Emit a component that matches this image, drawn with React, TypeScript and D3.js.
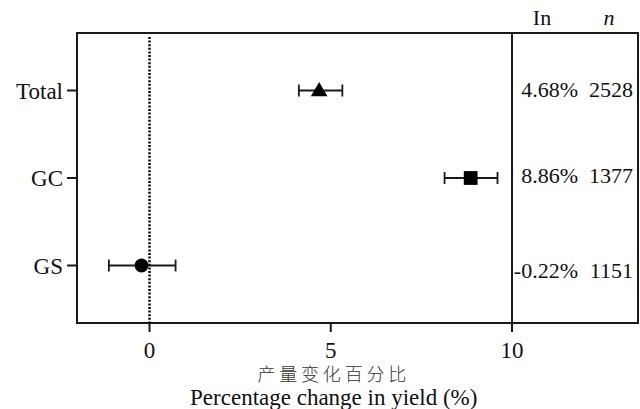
import React from "react";
import * as d3 from "d3";

const categories = ["Total", "GC", "GS"];
const means = [4.68, 8.86, -0.22];
const lower = [4.12, 8.14, -1.12];
const upper = [5.32, 9.6, 0.72];
const lnLabels = ["4.68%", "8.86%", "-0.22%"];
const nLabels = ["2528", "1377", "1151"];
const shapes = ["triangle", "square", "circle"];
const xTicks = [0, 5, 10];
const textDy = [-1, -3, 5];

const W = 640;
const H = 409;
const left = 77;
const mid = 512;
const right = 638;
const top = 33;
const bottom = 323;
const serifStyle = { fontFamily: "'Liberation Serif', 'Times New Roman', Times, 'DejaVu Serif', serif" };
const cjkStyle = { fontFamily: "'Liberation Serif', 'Noto Sans CJK SC', sans-serif" };
const stroke = "#1a1a1a";

export default function App() {
  const x = d3.scaleLinear().domain([-2, 10]).range([left, mid]);
  const y = d3.scalePoint<string>().domain(categories).range([top, bottom]).padding(0.657);

  const tri = d3.symbol().type(d3.symbolTriangle).size(120)();
  const sq = d3.symbol().type(d3.symbolSquare).size(190)();
  const circ = d3.symbol().type(d3.symbolCircle).size(150)();
  const shapePath = (s: string) => (s === "triangle" ? tri : s === "square" ? sq : circ);

  return (
    <svg width={W} height={H} style={{ position: "absolute", left: 0, top: 0, background: "#fff" }}>
      <rect x={0} y={0} width={W} height={H} fill="#fff" />
      <rect x={left} y={top} width={right - left} height={bottom - top} fill="none" stroke={stroke} strokeWidth={2} />
      <line x1={mid} x2={mid} y1={top} y2={bottom} stroke={stroke} strokeWidth={2} />
      <line x1={x(0)} x2={x(0)} y1={top + 4} y2={bottom} stroke="#000" strokeWidth={2.5} strokeDasharray="2,1.6" />
      {xTicks.map((t) => (
        <g key={t}>
          <line x1={x(t)} x2={x(t)} y1={bottom} y2={bottom + 9} stroke={stroke} strokeWidth={2} />
          <text x={x(t)} y={bottom + 35} textAnchor="middle" style={serifStyle} fontSize={23} fill="#111">
            {t}
          </text>
        </g>
      ))}
      {categories.map((c) => (
        <g key={c}>
          <line x1={left - 10} x2={left} y1={y(c)!} y2={y(c)!} stroke={stroke} strokeWidth={2} />
          <text x={left - 14} y={y(c)!} dy="0.35em" textAnchor="end" style={serifStyle} fontSize={23} fill="#111">
            {c}
          </text>
        </g>
      ))}
      {categories.map((c, i) => {
        const cy = y(c)!;
        return (
          <g key={c}>
            <line x1={x(lower[i])} x2={x(upper[i])} y1={cy} y2={cy} stroke={stroke} strokeWidth={1.8} />
            <line x1={x(lower[i])} x2={x(lower[i])} y1={cy - 6} y2={cy + 6} stroke={stroke} strokeWidth={1.8} />
            <line x1={x(upper[i])} x2={x(upper[i])} y1={cy - 6} y2={cy + 6} stroke={stroke} strokeWidth={1.8} />
            <path d={shapePath(shapes[i])!} transform={`translate(${x(means[i])},${cy + (shapes[i] === "triangle" ? 1 : 0)})`} fill="#000" />
          </g>
        );
      })}
      <text x={542} y={25} textAnchor="middle" style={serifStyle} fontSize={22} fill="#111">In</text>
      <text x={609} y={25} textAnchor="middle" style={serifStyle} fontSize={22} fontStyle="italic" fill="#111">n</text>
      {categories.map((c, i) => (
        <g key={c}>
          <text x={578} y={y(c)! + textDy[i]} dy="0.35em" textAnchor="end" style={serifStyle} fontSize={22} fill="#111">
            {lnLabels[i]}
          </text>
          <text x={633} y={y(c)! + textDy[i]} dy="0.35em" textAnchor="end" style={serifStyle} fontSize={22} fill="#111">
            {nLabels[i]}
          </text>
        </g>
      ))}
      <text x={x(5) + 3} y={380.5} textAnchor="middle" style={cjkStyle} fontWeight={300} fontSize={18} letterSpacing={3.8} fill="#333">
        产量变化百分比
      </text>
      <text x={x(5) + 3} y={405} textAnchor="middle" style={serifStyle} fontSize={23} fill="#111">
        Percentage change in yield (%)
      </text>
    </svg>
  );
}
